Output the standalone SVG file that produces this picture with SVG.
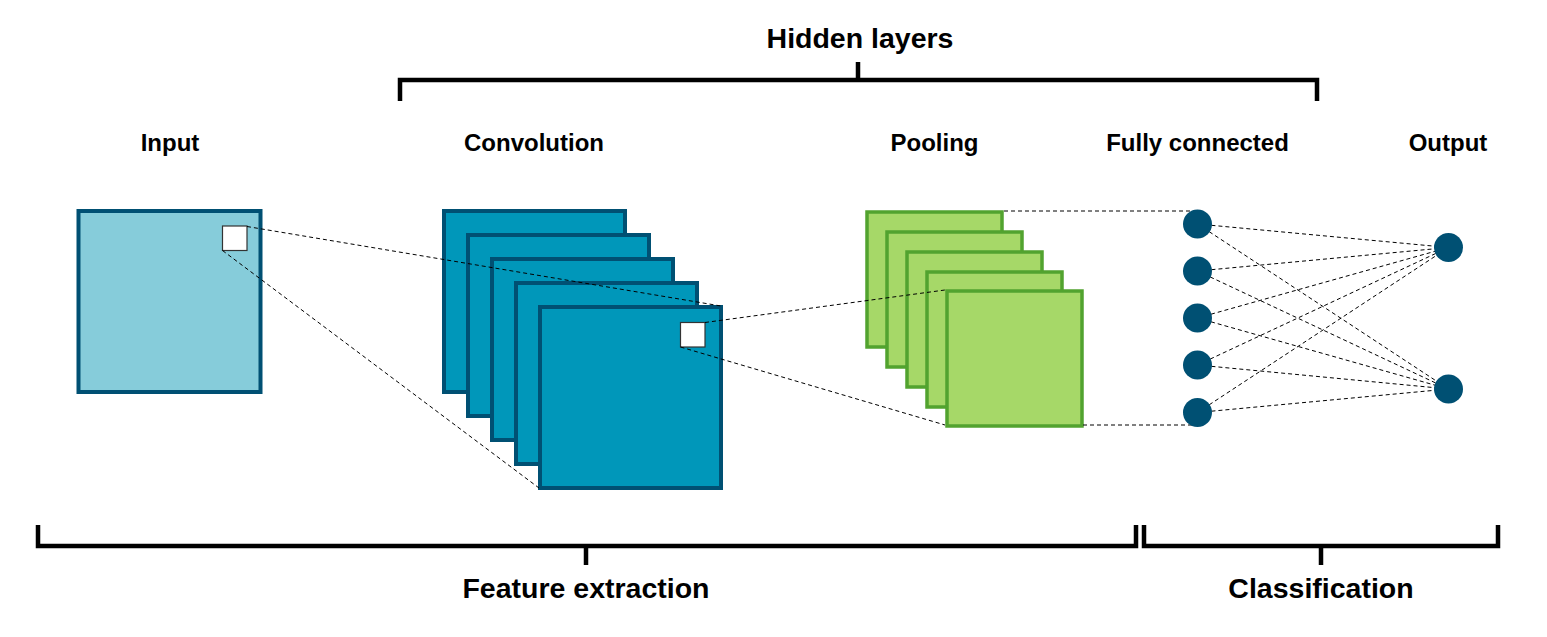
<svg xmlns="http://www.w3.org/2000/svg" width="1547" height="637" viewBox="0 0 1547 637">
<style>
.lbl{font-family:"Liberation Sans",Arial,sans-serif;font-weight:bold;fill:#000;text-anchor:middle}
.sm{font-size:24px}
.lg{font-size:28.5px}
.br{fill:none;stroke:#000;stroke-width:4.5;stroke-linecap:butt;stroke-linejoin:miter}
.inp{fill:#86CCDA;stroke:#005073;stroke-width:4}
.conv{fill:#0097BA;stroke:#005073;stroke-width:4}
.pool{fill:#A6D868;stroke:#52A32F;stroke-width:3.5}
.win{fill:#fff;stroke:#333;stroke-width:1.2}
.dash{fill:none;stroke:#000;stroke-width:1;stroke-dasharray:4 3}
.nd{fill:#005073}
</style>
<rect width="1547" height="637" fill="#fff"/>

<g id="labels">
<text class="lbl lg" x="860" y="48">Hidden layers</text>
<text class="lbl sm" x="170" y="151">Input</text>
<text class="lbl sm" x="534" y="151">Convolution</text>
<text class="lbl sm" x="934.5" y="151">Pooling</text>
<text class="lbl sm" x="1197.5" y="151">Fully connected</text>
<text class="lbl sm" x="1448" y="151">Output</text>
<text class="lbl lg" x="586" y="598">Feature extraction</text>
<text class="lbl lg" x="1321" y="598">Classification</text>
</g>

<g id="brackets">
<path class="br" d="M400 101 V80 H1317 V101 M858 80 V62"/>
<path class="br" d="M38 525 V546 H1136 V525 M586 546 V565"/>
<path class="br" d="M1144 525 V546 H1498 V525 M1321 546 V565"/>
</g>

<g id="input">
<rect class="inp" x="78.5" y="211" width="182" height="181"/>
<rect class="win" x="222.5" y="226" width="24.5" height="24.5"/>
</g>

<g id="convolution">
<rect class="conv" x="444" y="211" width="181" height="181"/>
<rect class="conv" x="468" y="235" width="181" height="181"/>
<rect class="conv" x="492" y="259" width="181" height="181"/>
<rect class="conv" x="516" y="283" width="181" height="181"/>
<rect class="conv" x="540" y="307" width="181" height="181"/>
<rect class="win" x="680.5" y="322.5" width="24.5" height="24.5"/>
</g>

<g id="pooling">
<rect class="pool" x="867" y="212" width="135" height="135"/>
<rect class="pool" x="887" y="232" width="135" height="135"/>
<rect class="pool" x="907" y="252" width="135" height="135"/>
<rect class="pool" x="927" y="272" width="135" height="135"/>
<rect class="pool" x="947" y="291" width="135" height="135"/>
</g>

<g id="connectors">
<line class="dash" x1="247" y1="226.5" x2="721" y2="306"/>
<line class="dash" x1="222.5" y1="250.5" x2="539" y2="488"/>
<line class="dash" x1="705" y1="322.5" x2="945" y2="290"/>
<line class="dash" x1="680.5" y1="347" x2="945" y2="425"/>
<line class="dash" x1="1004" y1="211" x2="1197" y2="211"/>
<line class="dash" x1="1083" y1="425" x2="1197" y2="425"/>
<line class="dash" x1="1197.5" y1="224" x2="1448.5" y2="247.5"/>
<line class="dash" x1="1197.5" y1="271" x2="1448.5" y2="247.5"/>
<line class="dash" x1="1197.5" y1="318" x2="1448.5" y2="247.5"/>
<line class="dash" x1="1197.5" y1="365" x2="1448.5" y2="247.5"/>
<line class="dash" x1="1197.5" y1="412.5" x2="1448.5" y2="247.5"/>
<line class="dash" x1="1197.5" y1="224" x2="1448.5" y2="389"/>
<line class="dash" x1="1197.5" y1="271" x2="1448.5" y2="389"/>
<line class="dash" x1="1197.5" y1="318" x2="1448.5" y2="389"/>
<line class="dash" x1="1197.5" y1="365" x2="1448.5" y2="389"/>
<line class="dash" x1="1197.5" y1="412.5" x2="1448.5" y2="389"/>
</g>

<g id="fully-connected">
<circle class="nd" cx="1197.5" cy="224" r="14.5"/>
<circle class="nd" cx="1197.5" cy="271" r="14.5"/>
<circle class="nd" cx="1197.5" cy="318" r="14.5"/>
<circle class="nd" cx="1197.5" cy="365" r="14.5"/>
<circle class="nd" cx="1197.5" cy="412.5" r="14.5"/>
</g>

<g id="output">
<circle class="nd" cx="1448.5" cy="247.5" r="14.5"/>
<circle class="nd" cx="1448.5" cy="389" r="14.5"/>
</g>
</svg>
